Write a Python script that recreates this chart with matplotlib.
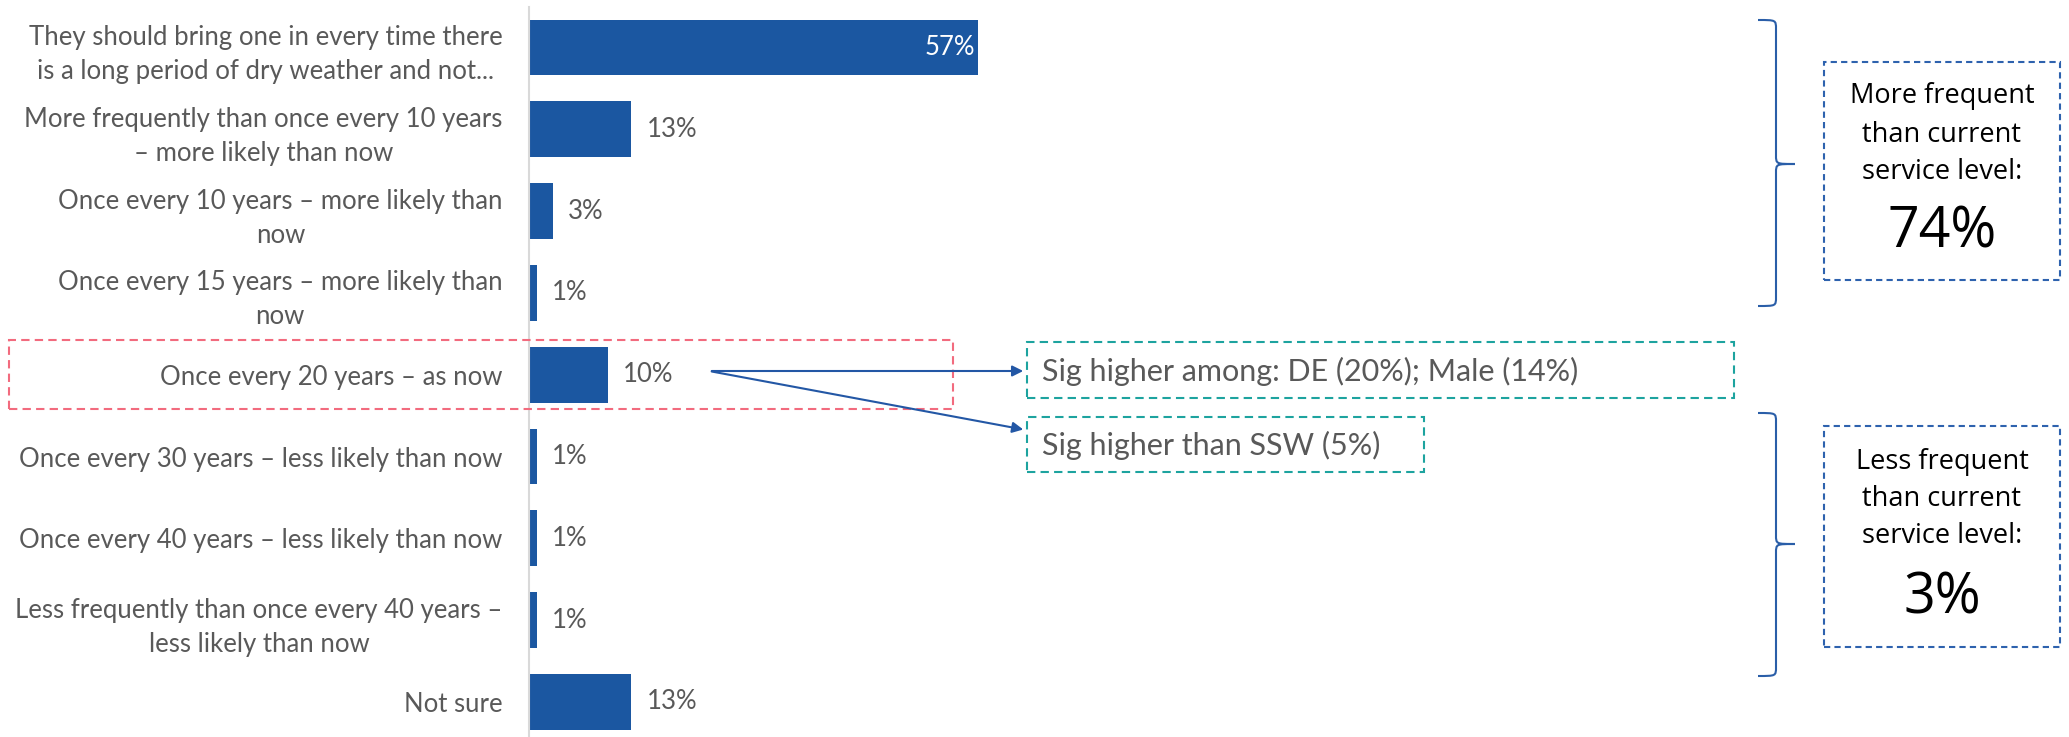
import matplotlib.pyplot as plt
import matplotlib.patches as patches
from matplotlib.path import Path

# data
categories = [
    "They should bring one in every time there\nis a long period of dry weather and not...",
    "More frequently than once every 10 years\n\u2013 more likely than now",
    "Once every 10 years \u2013 more likely than\nnow",
    "Once every 15 years \u2013 more likely than\nnow",
    "Once every 20 years \u2013 as now",
    "Once every 30 years \u2013 less likely than now",
    "Once every 40 years \u2013 less likely than now",
    "Less frequently than once every 40 years \u2013\nless likely than now",
    "Not sure",
]
values = [57, 13, 3, 1, 10, 1, 1, 1, 13]
value_labels = ["57%", "13%", "3%", "1%", "10%", "1%", "1%", "1%", "13%"]

sig_notes = ["Sig higher among: DE (20%); Male (14%)", "Sig higher than SSW (5%)"]
group_titles = [["More frequent", "than current", "service level:"],
                ["Less frequent", "than current", "service level:"]]
group_totals = ["74%", "3%"]

W, H = 2069, 737
BAR = "#1B57A1"
GREY = "#595959"
LABEL_FONT = ["Lato", "DejaVu Sans"]

fig = plt.figure(figsize=(W / 100, H / 100), dpi=100)


def fx(x):
    return x / W


def fy(y):
    # pixel from top -> figure fraction
    return 1 - y / H


# main bar axes
ax_top, px_per_row = 6.6, 81.8
ax = fig.add_axes([fx(529), 0, fx(W - 529), (H - ax_top) / H])
ax.barh(range(len(values)), values, height=0.68, color=BAR)
ax.set_ylim(-0.5 + (H - ax_top) / px_per_row, -0.5)
ax.set_xlim(0, (W - 529) / 7.88)

for sp in ["top", "right", "bottom"]:
    ax.spines[sp].set_visible(False)
ax.spines["left"].set_color("#D9D9D9")
ax.spines["left"].set_linewidth(1.5)
ax.set_xticks([])
ax.set_yticks(range(len(categories)))
ax.set_yticklabels(categories, fontsize=18.5, color=GREY, family=LABEL_FONT,
                   multialignment="center", linespacing=1.45)
ax.tick_params(axis="y", length=0, pad=19)

for i, (v, lab) in enumerate(zip(values, value_labels)):
    if v > 40:
        ax.annotate(lab, (v, i), xytext=(-2, 0), textcoords="offset points",
                    ha="right", va="center", color="white", fontsize=18.5,
                    family=LABEL_FONT)
    else:
        ax.annotate(lab, (v, i), xytext=(11, 0), textcoords="offset points",
                    ha="left", va="center", color=GREY, fontsize=18.5,
                    family=LABEL_FONT)


def dashed_box(x0, y0, x1, y1, color, dash=(0, (4, 2.5))):
    rect = patches.Rectangle((fx(x0), fy(y1)), fx(x1 - x0), (y1 - y0) / H,
                             transform=fig.transFigure, fill=False,
                             edgecolor=color, linewidth=1.5, linestyle=dash)
    fig.add_artist(rect)


# highlight round "as now" row
dashed_box(9, 340, 953, 409, "#F26B7E")

# arrows to the sig notes
for end_y in [371, 430]:
    arr = patches.FancyArrowPatch((fx(709), fy(371)), (fx(1026), fy(end_y)),
                                  transform=fig.transFigure, arrowstyle="-|>",
                                  mutation_scale=16, color="#2357A5", linewidth=1.5)
    fig.add_artist(arr)

# sig note boxes
TEAL = "#1DA39F"
dashed_box(1027, 342, 1734, 398, TEAL)
dashed_box(1027, 417, 1424, 472, TEAL)
fig.text(fx(1042), fy(371), sig_notes[0], ha="left", va="center", color=GREY,
         fontsize=22, family=LABEL_FONT)
fig.text(fx(1042), fy(445), sig_notes[1], ha="left", va="center", color=GREY,
         fontsize=22, family=LABEL_FONT)


def brace(y_top, y_mid, y_bot, x0=1758, x1=1776, x2=1795, r=9):
    verts = [(x0, y_top), (x1, y_top), (x1, y_top), (x1, y_top + r),
             (x1, y_mid - r),
             (x1, y_mid), (x1, y_mid), (x2, y_mid),
             (x1, y_mid), (x1, y_mid), (x1, y_mid + r),
             (x1, y_bot - r),
             (x1, y_bot), (x1, y_bot), (x0, y_bot)]
    codes = [Path.MOVETO, Path.CURVE4, Path.CURVE4, Path.CURVE4,
             Path.LINETO,
             Path.CURVE4, Path.CURVE4, Path.CURVE4,
             Path.CURVE4, Path.CURVE4, Path.CURVE4,
             Path.LINETO,
             Path.CURVE4, Path.CURVE4, Path.CURVE4]
    verts = [(fx(x), fy(y)) for x, y in verts]
    p = patches.PathPatch(Path(verts, codes), transform=fig.transFigure,
                          fill=False, edgecolor="#2A5EA8", linewidth=1.5)
    fig.add_artist(p)


brace(20, 164, 306)
brace(413, 544, 676)

# summary boxes
BLUE_DASH = "#2E62AE"
summary_boxes = [(62, 280, [96, 135, 172], 233), (426, 647, [462, 499, 536], 599)]
for (y0, y1, line_ys, big_y), lines, total in zip(summary_boxes, group_titles, group_totals):
    dashed_box(1824, y0, 2060, y1, BLUE_DASH, dash=(0, (3, 2)))
    for ly, txt in zip(line_ys, lines):
        fig.text(fx(1942), fy(ly), txt, ha="center", va="center", color="black",
                 fontsize=19.5, family="Open Sans")
    fig.text(fx(1942), fy(big_y), total, ha="center", va="center", color="black",
             fontsize=40, family="Open Sans")

fig.savefig("out.png", dpi=100)
